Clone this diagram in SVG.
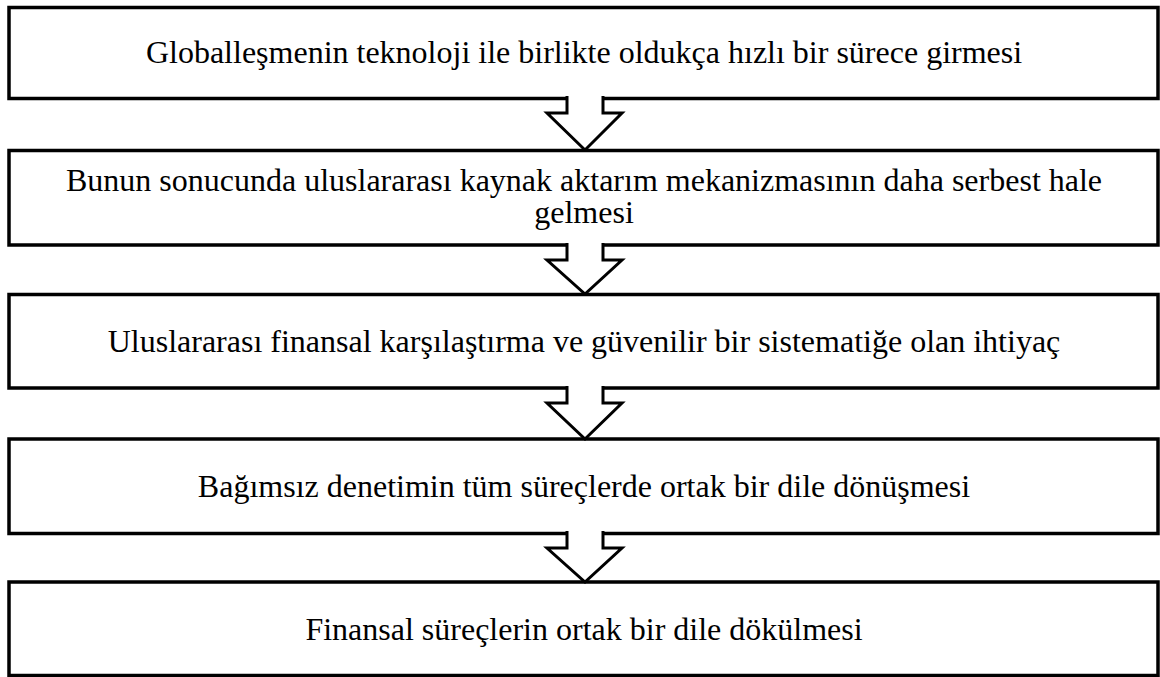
<svg xmlns="http://www.w3.org/2000/svg" width="1160" height="677" viewBox="0 0 1160 677">
<style>
.box{fill:#fff;stroke:#000;stroke-width:3.5}
.lbl{font-family:"Liberation Serif","Times New Roman",serif;font-size:32px;fill:#000;text-anchor:middle}
.arr{fill:#fff;stroke:#000;stroke-width:3;stroke-linejoin:miter}
</style>
<rect width="1160" height="677" fill="#fff"/>
<g id="node1"><rect class="box" x="9" y="7.5" width="1149" height="91"/><text class="lbl" x="584" y="63">Globalleşmenin teknoloji ile birlikte oldukça hızlı bir sürece girmesi</text></g>
<g id="node2"><rect class="box" x="9" y="150.5" width="1149" height="94.5"/><text class="lbl" x="584" y="191">Bunun sonucunda uluslararası kaynak aktarım mekanizmasının daha serbest hale</text><text class="lbl" x="584" y="223">gelmesi</text></g>
<g id="node3"><rect class="box" x="9" y="294.5" width="1149" height="93.5"/><text class="lbl" x="584" y="352">Uluslararası finansal karşılaştırma ve güvenilir bir sistematiğe olan ihtiyaç</text></g>
<g id="node4"><rect class="box" x="9" y="439" width="1149" height="94.5"/><text class="lbl" x="584" y="497">Bağımsız denetimin tüm süreçlerde ortak bir dile dönüşmesi</text></g>
<g id="node5"><rect class="box" x="9" y="582" width="1149" height="93.5"/><text class="lbl" x="584" y="640">Finansal süreçlerin ortak bir dile dökülmesi</text></g>
<g id="connectors">
<path class="arr" d="M567,96 V113 H547 L585,150 L622,113 H603 V96"/>
<path class="arr" d="M567,243 V260 H547 L585,294 L622,260 H603 V243"/>
<path class="arr" d="M567,386 V403 H547 L585,439 L622,403 H603 V386"/>
<path class="arr" d="M567,531 V548 H547 L585,582 L622,548 H603 V531"/>
</g>
</svg>
